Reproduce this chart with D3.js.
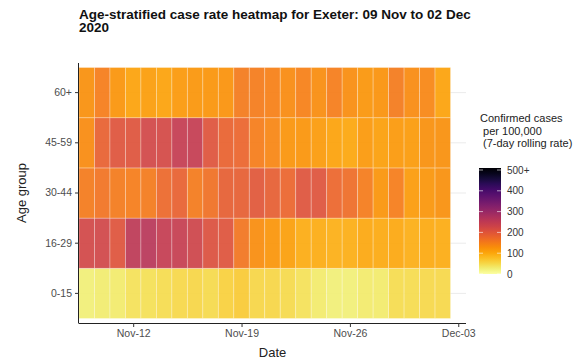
<!DOCTYPE html>
<html>
<head>
<meta charset="utf-8">
<script src="https://cdn.jsdelivr.net/npm/d3@7"></script>
<style>
  body { margin: 0; background: #fff; }
  text { font-family: "Liberation Sans", Arial, sans-serif; }
</style>
</head>
<body>
<script>
	// chart size
	var w = 586;
	var h = 362;

	// categories
	var dates = ["2020-11-09","2020-11-10","2020-11-11","2020-11-12","2020-11-13","2020-11-14",
		"2020-11-15","2020-11-16","2020-11-17","2020-11-18","2020-11-19","2020-11-20",
		"2020-11-21","2020-11-22","2020-11-23","2020-11-24","2020-11-25","2020-11-26",
		"2020-11-27","2020-11-28","2020-11-29","2020-11-30","2020-12-01","2020-12-02"];
	var ageGroups = ["0-15", "16-29", "30-44", "45-59", "60+"];

	// 7-day rolling rate per 100,000, one array per age group
	var rate0_15  = [25, 28, 30, 40, 42, 45, 50, 52, 48, 58, 64, 52, 52, 48, 40, 30, 25, 25, 30, 30, 45, 45, 50, 50];
	var rate16_29 = [220, 222, 200, 250, 255, 240, 238, 225, 205, 200, 155, 128, 118, 108, 95, 95, 90, 92, 98, 96, 98, 93, 96, 95];
	var rate30_44 = [150, 158, 150, 145, 150, 170, 180, 150, 162, 185, 185, 195, 185, 175, 200, 200, 172, 165, 148, 120, 145, 112, 118, 125];
	var rate45_59 = [130, 180, 200, 200, 220, 215, 240, 240, 200, 178, 175, 145, 135, 120, 120, 112, 105, 100, 115, 108, 115, 112, 125, 125];
	var rate60    = [125, 145, 120, 105, 110, 105, 115, 118, 120, 122, 150, 148, 142, 130, 142, 128, 145, 128, 118, 122, 150, 130, 135, 105];

	// axis / legend ticks
	var xTicks = ["2020-11-12", "2020-11-19", "2020-11-26", "2020-12-03"];
	var legendTicks = [0, 100, 200, 300, 400, 500];

	var rates = {
		"0-15": rate0_15,
		"16-29": rate16_29,
		"30-44": rate30_44,
		"45-59": rate45_59,
		"60+": rate60
	};

	var parseDate = d3.timeParse("%Y-%m-%d");
	var cells = [];
	ageGroups.forEach(function(g) {
		rates[g].forEach(function(v, i) {
			cells.push({ date: parseDate(dates[i]), group: g, value: v });
		});
	});

	var svg = d3.select("body")
		.append("svg")
		.attr("width", w)
		.attr("height", h);

	// panel edges
	var pLeft = 79, pRight = 466, pTop = 63, pBottom = 323;

	var xScale = d3.scaleTime()
		.domain([d3.timeHour.offset(parseDate("2020-11-08"), 12), d3.timeHour.offset(parseDate("2020-12-03"), 12)])
		.range([pLeft, pRight]);
	var dayW = xScale(parseDate("2020-11-10")) - xScale(parseDate("2020-11-09"));

	var yScale = d3.scaleBand()
		.domain(ageGroups)
		.range([pBottom, pTop])
		.paddingInner(0)
		.paddingOuter(0.09);

	var colors = d3.scaleSequential(function(t) { return d3.interpolateInferno(1 - t); })
		.domain([0, 500])
		.clamp(true);

	// horizontal grid lines
	svg.append("g")
		.selectAll("line")
		.data(ageGroups)
		.enter()
		.append("line")
		.attr("x1", pLeft)
		.attr("x2", pRight)
		.attr("y1", function(d) { return yScale(d) + yScale.bandwidth() / 2; })
		.attr("y2", function(d) { return yScale(d) + yScale.bandwidth() / 2; })
		.attr("stroke", "#ebebeb")
		.attr("stroke-width", 1);

	// tiles
	svg.append("g")
		.selectAll("rect")
		.data(cells)
		.enter()
		.append("rect")
		.attr("x", function(d) { return xScale(d.date) - dayW / 2; })
		.attr("y", function(d) { return yScale(d.group); })
		.attr("width", dayW)
		.attr("height", yScale.bandwidth())
		.attr("fill", function(d) { return colors(d.value); })
		.attr("fill-opacity", 0.92)
		.attr("stroke", "#ffffff")
		.attr("stroke-opacity", 0.35)
		.attr("stroke-width", 0.8);

	// x axis
	var xAxis = d3.axisBottom(xScale)
		.tickValues(xTicks.map(parseDate))
		.tickFormat(d3.timeFormat("%b-%d"))
		.tickSize(4)
		.tickPadding(3);
	var xGuide = svg.append("g")
		.attr("transform", "translate(0," + pBottom + ")")
		.call(xAxis);
	xGuide.select(".domain").attr("d", "M" + pLeft + ",0.5H" + pRight).attr("stroke", "#222");
	xGuide.selectAll(".tick line").attr("stroke", "#333");
	xGuide.selectAll("text").attr("fill", "#4d4d4d").attr("font-size", "10.5px").attr("font-family", "Liberation Sans, Arial, sans-serif");

	// y axis
	var yAxis = d3.axisLeft(yScale)
		.tickSize(4)
		.tickPadding(3);
	var yGuide = svg.append("g")
		.attr("transform", "translate(" + pLeft + ",0)")
		.call(yAxis);
	yGuide.select(".domain").attr("d", "M-0.5," + pTop + "V" + (pBottom + 0.5)).attr("stroke", "#222");
	yGuide.selectAll(".tick line").attr("stroke", "#333");
	yGuide.selectAll("text").attr("fill", "#4d4d4d").attr("font-size", "10.5px").attr("font-family", "Liberation Sans, Arial, sans-serif");

	// axis titles
	svg.append("text")
		.attr("x", (pLeft + pRight) / 2)
		.attr("y", 357)
		.attr("text-anchor", "middle")
		.attr("font-size", "13px")
		.attr("fill", "#222")
		.text("Date");
	svg.append("text")
		.attr("transform", "translate(26," + ((pTop + pBottom) / 2) + ") rotate(-90)")
		.attr("text-anchor", "middle")
		.attr("font-size", "13px")
		.attr("fill", "#222")
		.text("Age group");

	// title
	var title = svg.append("text")
		.attr("font-size", "13.5px")
		.attr("font-weight", "bold")
		.attr("fill", "#111");
	title.append("tspan").attr("x", 79).attr("y", 19).text("Age-stratified case rate heatmap for Exeter: 09 Nov to 02 Dec");
	title.append("tspan").attr("x", 79).attr("y", 32).text("2020");

	// legend
	var legTitle = svg.append("text")
		.attr("font-size", "11px")
		.attr("fill", "#222");
	legTitle.append("tspan").attr("x", 480).attr("y", 122).text("Confirmed cases");
	legTitle.append("tspan").attr("x", 480).attr("y", 135).text(" per 100,000");
	legTitle.append("tspan").attr("x", 480).attr("y", 147).text(" (7-day rolling rate)");

	var barX = 479, barW = 22;
	var legScale = d3.scaleLinear().domain([0, 500]).range([274, 170]);

	var defs = svg.append("defs");
	var grad = defs.append("linearGradient")
		.attr("id", "legGrad")
		.attr("x1", "0").attr("y1", "1").attr("x2", "0").attr("y2", "0");
	grad.selectAll("stop")
		.data(d3.range(0, 1.0001, 0.05))
		.enter()
		.append("stop")
		.attr("offset", function(d) { return d; })
		.attr("stop-color", function(d) { return colors(d * 500); });

	svg.append("rect")
		.attr("x", barX)
		.attr("y", legScale(500) - 2)
		.attr("width", barW)
		.attr("height", legScale(0) - legScale(500) + 2)
		.attr("fill", "url(#legGrad)");

	// little white ticks on the colour bar
	svg.append("g")
		.selectAll("path")
		.data(legendTicks)
		.enter()
		.append("path")
		.attr("d", function(d) {
			var y = legScale(d);
			return "M" + barX + "," + y + "h4M" + (barX + barW - 4) + "," + y + "h4";
		})
		.attr("stroke", "#fff")
		.attr("stroke-opacity", 0.6)
		.attr("stroke-width", 1);

	svg.append("g")
		.selectAll("text")
		.data(legendTicks)
		.enter()
		.append("text")
		.attr("x", barX + barW + 6)
		.attr("y", function(d) { return legScale(d) + 3.5; })
		.attr("font-size", "10px")
		.attr("fill", "#333")
		.text(function(d) { return d === 500 ? "500+" : d; });
</script>
</body>
</html>
